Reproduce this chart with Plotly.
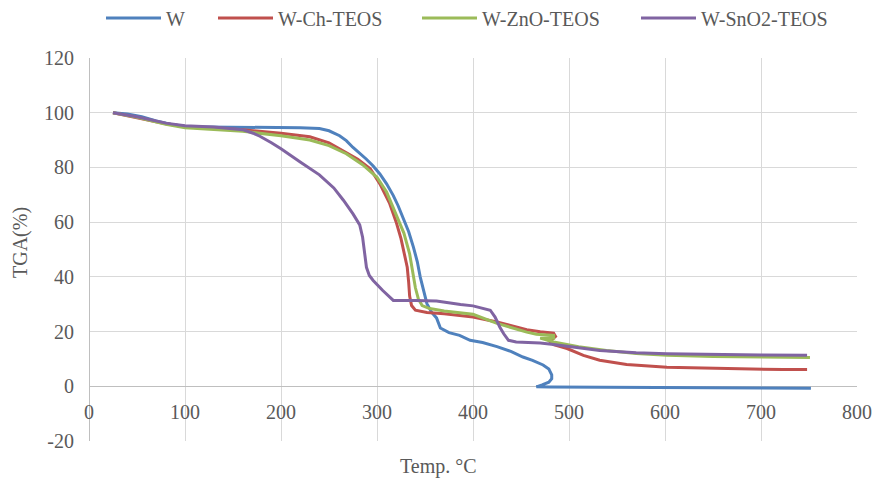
import plotly.graph_objects as go

# ---- data ----
w_temp = [25, 40, 55, 70, 85, 100, 120, 150, 180, 200, 220, 240, 250, 261, 268, 275, 282, 289, 296, 303,
          310, 317, 322, 327, 333, 338, 342, 345, 349, 352, 357, 362, 366, 375, 386, 397, 410, 425, 440,
          452, 462, 473, 479, 482, 482, 479, 472, 466, 480, 520, 560, 600, 650, 700, 752]
w_tga = [100, 99.5, 98.5, 97, 95.8, 95.0, 94.8, 94.7, 94.7, 94.6, 94.5, 94.2, 93.4, 91.6, 89.8, 87.3, 85.2,
         83, 80.5, 77.6, 74, 69.7, 66, 61.8, 56.5, 50.8, 45.5, 40, 34, 30.2, 27, 25, 21.3, 19.6, 18.6, 16.8,
         16.0, 14.5, 12.7, 10.7, 9.5, 7.8, 6.3, 4.2, 2.8, 1.5, 0.5, -0.2, -0.3, -0.4, -0.4, -0.4, -0.5, -0.6, -0.7]

ch_temp = [25, 50, 80, 100, 130, 160, 200, 230, 250, 268, 280, 293, 303, 313, 320, 325, 329, 331.5, 333,
           334, 336, 340, 352, 370, 400, 425, 456, 470, 484, 486, 480, 484, 498, 515, 532, 560, 602, 650,
           700, 723, 748]
ch_tga = [100, 98.3, 96, 95, 94.5, 93.8, 92.5, 91.2, 89, 85.5, 83, 79.5, 74, 67, 60, 54, 48, 43.5, 38,
          33, 29.5, 27.8, 27, 26.5, 25.3, 23.5, 20.7, 19.9, 19.4, 18.2, 16.4, 15.2, 13.8, 11.3, 9.5, 8.0,
          7.0, 6.6, 6.3, 6.1, 6.1]

zno_temp = [25, 50, 80, 100, 130, 160, 200, 230, 250, 268, 285, 300, 310, 320, 328, 334, 338, 340, 343,
            347, 355, 370, 400, 425, 456, 466, 484, 484, 470, 484, 510, 539, 570, 602, 650, 700, 751]
zno_tga = [100, 98.3, 95.8, 94.5, 93.9, 93.2, 91.6, 90, 88, 85, 81, 76.4, 71, 63, 56, 48.4, 40, 36, 32,
           29.5, 28.4, 27.5, 26.3, 23, 19.8, 19, 18.6, 17.6, 17.6, 16.2, 14.5, 13.1, 12, 11.3, 10.9, 10.7, 10.5]

sno2_temp = [25, 50, 80, 100, 130, 160, 171, 178, 190, 200, 220, 240, 255, 265, 275, 282, 285, 287, 289,
             292, 296, 306, 317, 340, 362, 387, 400, 418, 423, 428, 432, 437, 445, 470, 484, 532, 570, 602,
             650, 700, 748]
sno2_tga = [100, 98.5, 96.2, 95.2, 94.8, 93.8, 92.5, 91.4, 89, 86.8, 82, 77.3, 72.5, 68, 63, 59, 54.5,
            48, 43.5, 40.5, 38.7, 35, 31.4, 31.4, 31.2, 29.9, 29.4, 27.8, 25.3, 21.6, 19.2, 16.8, 16.2, 15.8,
            15.3, 13.1, 12.3, 11.9, 11.6, 11.4, 11.3]

series = [
    ("W", w_temp, w_tga, "#4F81BD"),
    ("W-Ch-TEOS", ch_temp, ch_tga, "#C0504D"),
    ("W-ZnO-TEOS", zno_temp, zno_tga, "#9BBB59"),
    ("W-SnO2-TEOS", sno2_temp, sno2_tga, "#8064A2"),
]

x_ticks = [0, 100, 200, 300, 400, 500, 600, 700, 800]
y_ticks = [-20, 0, 20, 40, 60, 80, 100, 120]
y_tick_labels = ["-20", "0", "20", "40", "60", "80", "100", "120"]

FONT = "Times New Roman"
GREY = "#595959"

# legend entry left edges (pixels) of the reference
legend_px = [101, 213, 417, 636]

fig = go.Figure()
legend_layouts = {}
for i, (name, xs, ys, col) in enumerate(series):
    key = "legend" if i == 0 else f"legend{i + 1}"
    fig.add_trace(go.Scatter(x=xs, y=ys, mode="lines", name=name, legend=key,
                             line=dict(color=col, width=3)))
    legend_layouts[key] = dict(orientation="h", x=(legend_px[i] - 89) / 768, xanchor="left",
                               y=(441 - 18) / 383, yanchor="middle", itemwidth=55,
                               font=dict(family=FONT, size=20, color=GREY),
                               bgcolor="rgba(0,0,0,0)", borderwidth=0)

fig.update_layout(
    width=877, height=484,
    margin=dict(l=89, r=20, t=58, b=43, autoexpand=False),
    paper_bgcolor="white", plot_bgcolor="white",
    font=dict(family=FONT, size=20, color=GREY),
    showlegend=True,
    xaxis=dict(range=[0, 800], tickvals=x_ticks, showgrid=True, gridcolor="#D9D9D9", gridwidth=1.3,
               zeroline=True, zerolinecolor="#BFBFBF", zerolinewidth=1.3,
               showline=False, anchor="free", position=20 / 140, ticks="",
               ticklabelstandoff=12, tickfont=dict(family=FONT, size=20, color=GREY)),
    yaxis=dict(range=[-20, 120], tickvals=y_ticks, ticktext=y_tick_labels, showgrid=True,
               gridcolor="#D9D9D9", gridwidth=1.3,
               zeroline=True, zerolinecolor="#BFBFBF", zerolinewidth=1.3, domain=[0, 1],
               showline=False, ticks="", ticklabelstandoff=14,
               tickfont=dict(family=FONT, size=20, color=GREY)),
    annotations=[
        dict(text="Temp. °C", xref="paper", yref="paper", x=(438 - 89) / 768, y=-(466 - 441) / 383,
             xanchor="center", yanchor="middle", showarrow=False,
             font=dict(family=FONT, size=20, color=GREY)),
        dict(text="TGA(%)", xref="paper", yref="paper", x=-(89 - 20) / 768, y=(441 - 243) / 383,
             xanchor="center", yanchor="middle", showarrow=False, textangle=-90,
             font=dict(family=FONT, size=20, color=GREY)),
    ],
    **legend_layouts,
)

fig.write_html("out.html")
